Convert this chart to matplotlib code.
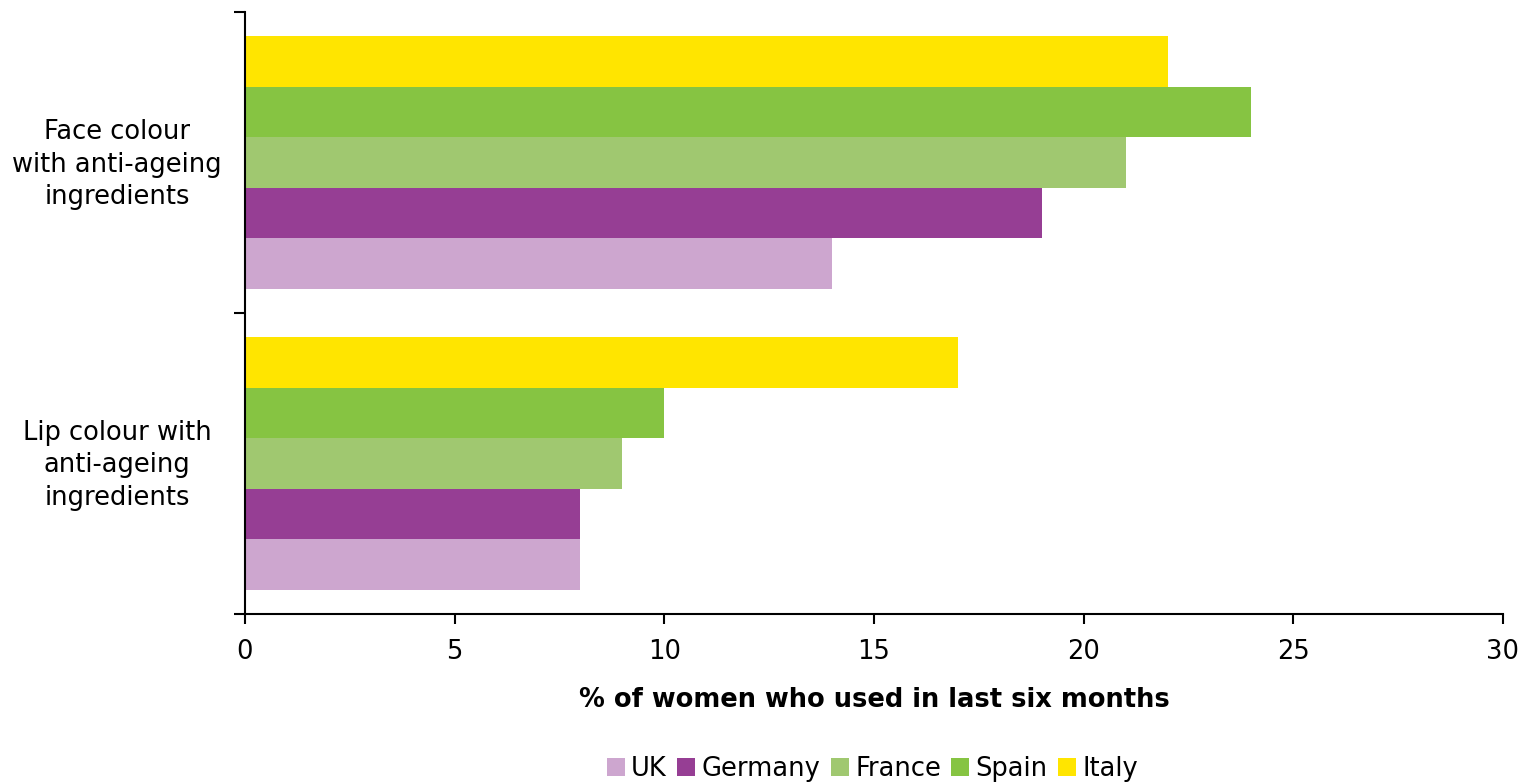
import matplotlib.pyplot as plt
import matplotlib.transforms as mtransforms
import numpy as np

categories = ["Lip colour with\nanti-ageing\ningredients", "Face colour\nwith anti-ageing\ningredients"]
countries = ["UK", "Germany", "France", "Spain", "Italy"]
colors = ["#CDA6CF", "#963E94", "#A0C870", "#86C442", "#FFE500"]
values = {
    "UK": [8, 14],
    "Germany": [8, 19],
    "France": [9, 21],
    "Spain": [10, 24],
    "Italy": [17, 22],
}

plt.rcParams["font.family"] = "DejaVu Sans"
fs = 18.5

fig = plt.figure(figsize=(15.28, 7.83), dpi=100)
ax = fig.add_axes([245 / 1528, 1 - 614 / 783, (1503 - 245) / 1528, (614 - 12) / 783])

y = np.arange(len(categories))
h = 0.84 / len(countries)
for i, c in enumerate(countries):
    ax.barh(y - 0.42 + h * (i + 0.5), values[c], height=h, color=colors[i], label=c)

ax.set_xlim(0, 30)
ax.set_ylim(-0.5, 1.5)
ax.set_xticks(range(0, 31, 5))
ax.set_yticks([-0.5, 0.5, 1.5])
ax.set_yticklabels([])

# category labels, centred left of the axis
trans = mtransforms.blended_transform_factory(ax.transAxes, ax.transData)
shift = mtransforms.ScaledTranslation(0, -2 / 100, fig.dpi_scale_trans)
for yi, cat in zip(y, categories):
    ax.text(-0.1017, yi, cat, transform=trans + shift, ha="center", va="center",
            fontsize=fs, linespacing=1.32)

ax.tick_params(axis="y", which="major", length=8, width=1.5)
ax.tick_params(axis="x", length=7, width=1.5, labelsize=fs, pad=11)
for s in ["top", "right"]:
    ax.spines[s].set_visible(False)
ax.spines["left"].set_linewidth(1.5)
ax.spines["bottom"].set_linewidth(1.5)

ax.set_xlabel("% of women who used in last six months", fontsize=fs, fontweight="bold", labelpad=16)

fig.legend(loc="lower center", bbox_to_anchor=(0.571, -0.028), ncol=5, frameon=False,
           fontsize=fs, handlelength=0.7, handleheight=0.7, handletextpad=0.25, columnspacing=0.4)

fig.savefig("out.png", dpi=100)
